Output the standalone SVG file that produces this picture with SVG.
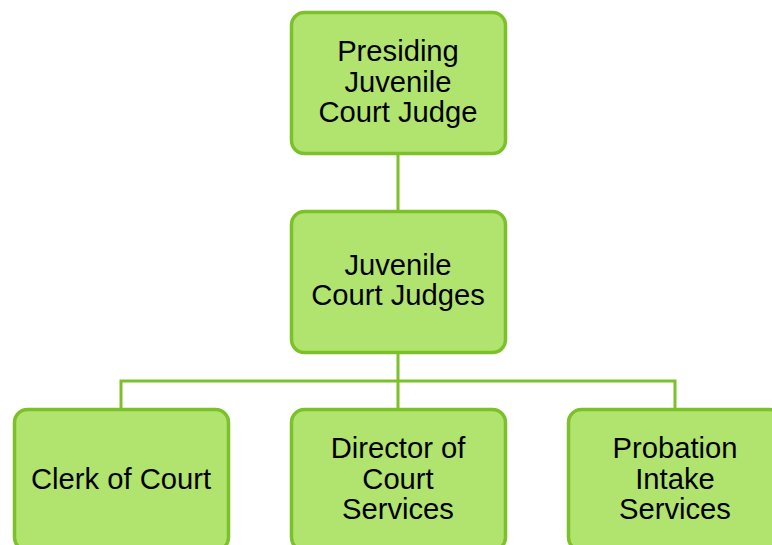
<svg xmlns="http://www.w3.org/2000/svg" width="772" height="545" viewBox="0 0 772 545">
<style>
.box{fill:#b1e46f;stroke:#7cc12a;stroke-width:3.5}
.lbl{font-family:"Liberation Sans",Arial,sans-serif;font-size:29.2px;fill:#000;text-anchor:middle}
.conn{fill:none;stroke:#7cc12a;stroke-width:3}
</style>
<rect width="772" height="545" fill="#fff"/>
<g id="connectors">
<line class="conn" x1="398" y1="154" x2="398" y2="211"/>
<line class="conn" x1="398" y1="353" x2="398" y2="409"/>
<polyline class="conn" points="121,409 121,381 675,381 675,409"/>
</g>
<g id="presiding">
<rect class="box" x="291.5" y="12.5" width="214" height="141" rx="13"/>
<text class="lbl" x="398" y="61">Presiding</text>
<text class="lbl" x="398" y="92">Juvenile</text>
<text class="lbl" x="398" y="122">Court Judge</text>
</g>
<g id="judges">
<rect class="box" x="291.5" y="211.5" width="214" height="141" rx="13"/>
<text class="lbl" x="398" y="275">Juvenile</text>
<text class="lbl" x="398" y="305">Court Judges</text>
</g>
<g id="clerk">
<rect class="box" x="14.5" y="409.5" width="214" height="141" rx="13"/>
<text class="lbl" x="121" y="489">Clerk of Court</text>
</g>
<g id="director">
<rect class="box" x="291.5" y="409.5" width="214" height="141" rx="13"/>
<text class="lbl" x="398" y="458">Director of</text>
<text class="lbl" x="398" y="489">Court</text>
<text class="lbl" x="398" y="519">Services</text>
</g>
<g id="probation">
<rect class="box" x="568.5" y="409.5" width="214" height="141" rx="13"/>
<text class="lbl" x="675" y="458">Probation</text>
<text class="lbl" x="675" y="489">Intake</text>
<text class="lbl" x="675" y="519">Services</text>
</g>
</svg>
